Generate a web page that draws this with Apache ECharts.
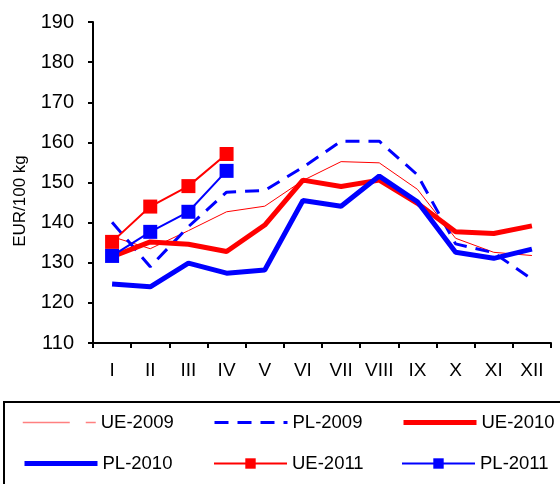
<!DOCTYPE html>
<html>
<head>
<meta charset="utf-8">
<script src="https://cdn.jsdelivr.net/npm/echarts@6/dist/echarts.min.js"></script>
<style>
  html, body { margin: 0; padding: 0; background: #fff; }
  #chart { width: 560px; height: 484px; }
</style>
</head>
<body>
<div id="chart"></div>
<script>
// Monthly prices, EUR/100 kg
const months = ['I', 'II', 'III', 'IV', 'V', 'VI', 'VII', 'VIII', 'IX', 'X', 'XI', 'XII'];
const ue2009 = [136.5, 133.5, 138.0, 142.7, 144.1, 150.5, 155.2, 154.9, 148.3, 136.1, 132.6, 131.8];
const pl2009 = [140.1, 129.0, 139.0, 147.6, 148.0, 153.8, 160.3, 160.3, 151.9, 134.7, 132.5, 125.9];
const ue2010 = [131.5, 135.2, 134.6, 132.8, 139.4, 150.6, 149.0, 150.6, 144.8, 137.7, 137.3, 139.2];
const pl2010 = [124.7, 124.0, 129.9, 127.4, 128.2, 145.5, 144.1, 151.6, 145.2, 132.6, 131.1, 133.4];
const ue2011 = [135.2, 144.0, 149.1, 157.1];
const pl2011 = [131.7, 137.7, 142.7, 152.9];
const yTicks = { min: 110, max: 190, step: 10 };

const RED = '#ff0000';
const BLUE = '#0000ff';
const FONT = 'Liberation Sans, Arial, sans-serif';

// one legend block per entry so that the three columns line up
function legendAt(item, left, top, itemHeight) {
  return {
    data: [item],
    left: left,
    top: top,
    padding: 0,
    itemWidth: 73,
    itemHeight: itemHeight || 14,
    selectedMode: false,
    textStyle: { fontFamily: FONT, fontSize: 18.5, color: '#000' }
  };
}

const noMark = { opacity: 0 };
const row1 = 413, row2 = 454;

const option = {
  animation: false,
  backgroundColor: '#fff',
  grid: { left: 93, right: 9, top: 22, bottom: 141 },
  xAxis: {
    type: 'category',
    data: months,
    boundaryGap: true,
    axisLine: { lineStyle: { color: '#000', width: 2 } },
    axisTick: { show: true, length: 5, lineStyle: { color: '#000', width: 2 } },
    axisLabel: { color: '#000', fontFamily: FONT, fontSize: 19, margin: 18 },
    splitLine: { show: false }
  },
  yAxis: {
    type: 'value',
    min: yTicks.min,
    max: yTicks.max,
    interval: yTicks.step,
    name: 'EUR/100 kg',
    nameLocation: 'middle',
    nameRotate: 90,
    nameGap: 64,
    nameTextStyle: { color: '#000', fontFamily: FONT, fontSize: 17, padding: [0, 37, 0, 0] },
    axisLine: { show: true, lineStyle: { color: '#000', width: 2 } },
    axisTick: { show: true, length: 5, lineStyle: { color: '#000', width: 2 } },
    axisLabel: { color: '#000', fontFamily: FONT, fontSize: 20, margin: 19 },
    splitLine: { show: false }
  },
  legend: [
    legendAt({ name: 'UE-2009', itemStyle: noMark,
      lineStyle: { color: '#ff8080', width: 1.5, type: [47, 16] } }, 22, row1),
    legendAt({ name: 'PL-2009', itemStyle: noMark,
      lineStyle: { color: BLUE, width: 3, type: [14, 9] } }, 213, row1),
    legendAt({ name: 'UE-2010', itemStyle: noMark,
      lineStyle: { color: RED, width: 5 } }, 401, row1),
    legendAt({ name: 'PL-2010', itemStyle: noMark,
      lineStyle: { color: BLUE, width: 5 } }, 22, row2),
    legendAt({ name: 'UE-2011', lineStyle: { color: RED, width: 2 } }, 213, row2, 13),
    legendAt({ name: 'PL-2011', lineStyle: { color: BLUE, width: 2 } }, 401, row2, 13)
  ],
  graphic: [{
    type: 'rect',
    shape: { x: 4, y: 402, width: 600, height: 120 },
    style: { fill: 'none', stroke: '#000', lineWidth: 2 },
    silent: true
  }],
  series: [
    {
      name: 'UE-2009', type: 'line', data: ue2009,
      showSymbol: false, symbol: 'none',
      lineStyle: { color: RED, width: 1 }, itemStyle: { color: RED }
    },
    {
      name: 'PL-2009', type: 'line', data: pl2009,
      showSymbol: false, symbol: 'none',
      lineStyle: { color: BLUE, width: 3, type: [14, 9] }, itemStyle: { color: BLUE }
    },
    {
      name: 'UE-2010', type: 'line', data: ue2010,
      showSymbol: false, symbol: 'none',
      lineStyle: { color: RED, width: 5 }, itemStyle: { color: RED }
    },
    {
      name: 'PL-2010', type: 'line', data: pl2010,
      showSymbol: false, symbol: 'none',
      lineStyle: { color: BLUE, width: 5 }, itemStyle: { color: BLUE }
    },
    {
      name: 'UE-2011', type: 'line', data: ue2011,
      symbol: 'rect', symbolSize: 14, showSymbol: true,
      lineStyle: { color: RED, width: 2 }, itemStyle: { color: RED }
    },
    {
      name: 'PL-2011', type: 'line', data: pl2011,
      symbol: 'rect', symbolSize: 14, showSymbol: true,
      lineStyle: { color: BLUE, width: 2 }, itemStyle: { color: BLUE }
    }
  ]
};

const chart = echarts.init(document.getElementById('chart'), null, { renderer: 'canvas' });
chart.setOption(option);
</script>
</body>
</html>
